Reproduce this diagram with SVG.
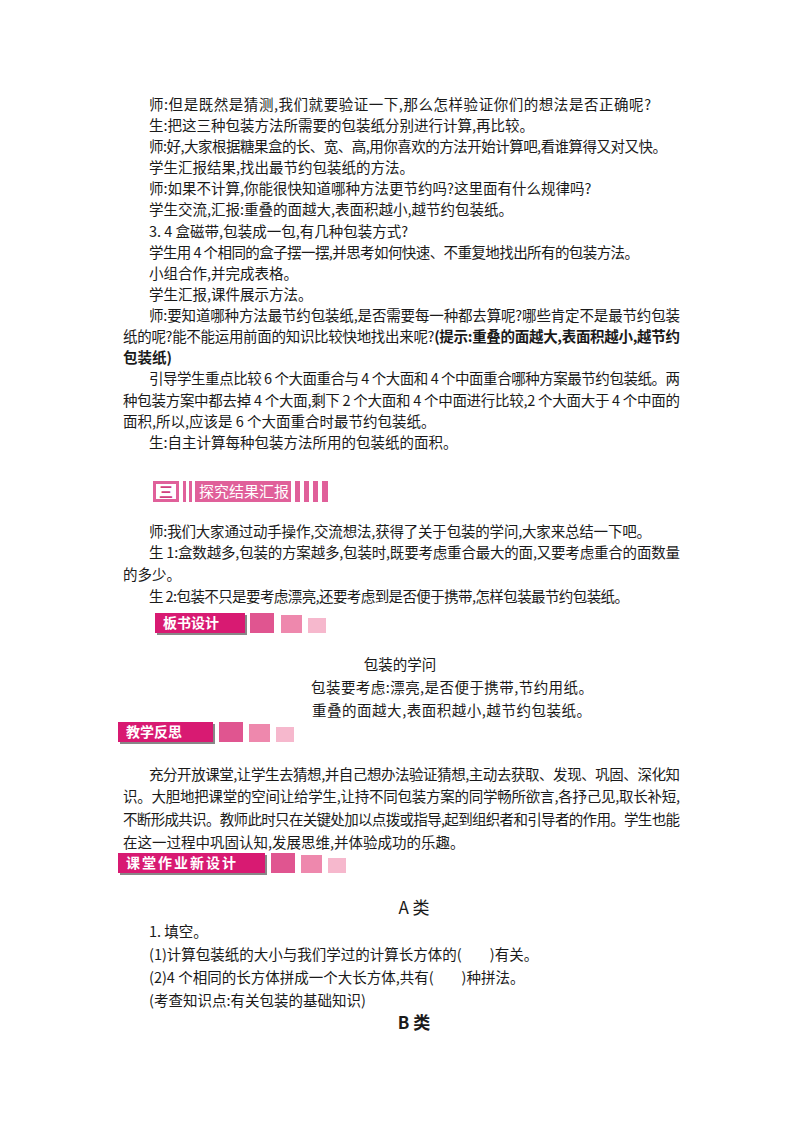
<svg xmlns="http://www.w3.org/2000/svg" width="800" height="1132" viewBox="0 0 800 1132">
<style>
text{font-family:"Noto Sans CJK SC","Liberation Sans",sans-serif;font-size:14.5px;fill:#1a1a1a}
.b{font-weight:bold}
.w{fill:#fff;font-size:14px;font-weight:bold}
.c{text-anchor:middle}
</style>
<rect width="800" height="1132" fill="#fff"/>
<g id="body">
<text x="149" y="110" textLength="502" lengthAdjust="spacing">师:但是既然是猜测,我们就要验证一下,那么怎样验证你们的想法是否正确呢?</text>
<text x="149" y="131">生:把这三种包装方法所需要的包装纸分别进行计算,再比较。</text>
<text x="149" y="152" textLength="518" lengthAdjust="spacing">师:好,大家根据糖果盒的长、宽、高,用你喜欢的方法开始计算吧,看谁算得又对又快。</text>
<text x="149" y="173">学生汇报结果,找出最节约包装纸的方法。</text>
<text x="149" y="194">师:如果不计算,你能很快知道哪种方法更节约吗?这里面有什么规律吗?</text>
<text x="149" y="215">学生交流,汇报:重叠的面越大,表面积越小,越节约包装纸。</text>
<text x="149" y="237">3. 4 盒磁带,包装成一包,有几种包装方式?</text>
<text x="149" y="258" textLength="490" lengthAdjust="spacing">学生用 4 个相同的盒子摆一摆,并思考如何快速、不重复地找出所有的包装方法。</text>
<text x="149" y="279">小组合作,并完成表格。</text>
<text x="149" y="300">学生汇报,课件展示方法。</text>
<text x="149" y="321" textLength="531" lengthAdjust="spacing">师:要知道哪种方法最节约包装纸,是否需要每一种都去算呢?哪些肯定不是最节约包装</text>
<text x="123" y="342" textLength="557" lengthAdjust="spacing">纸的呢?能不能运用前面的知识比较快地找出来呢?<tspan class="b">(提示:重叠的面越大,表面积越小,越节约</tspan></text>
<text x="123" y="363" class="b">包装纸)</text>
<text x="149" y="405" textLength="531" lengthAdjust="spacing" transform="translate(0,-21)">引导学生重点比较 6 个大面重合与 4 个大面和 4 个中面重合哪种方案最节约包装纸。两</text>
<text x="123" y="406" textLength="557" lengthAdjust="spacing">种包装方案中都去掉 4 个大面,剩下 2 个大面和 4 个中面进行比较,2 个大面大于 4 个中面的</text>
<text x="123" y="427">面积,所以,应该是 6 个大面重合时最节约包装纸。</text>
<text x="149" y="469" transform="translate(0,-21)">生:自主计算每种包装方法所用的包装纸的面积。</text>
<text x="149" y="537" textLength="502" lengthAdjust="spacing">师:我们大家通过动手操作,交流想法,获得了关于包装的学问,大家来总结一下吧。</text>
<text x="149" y="558" textLength="531" lengthAdjust="spacing">生 1:盒数越多,包装的方案越多,包装时,既要考虑重合最大的面,又要考虑重合的面数量</text>
<text x="123" y="580">的多少。</text>
<text x="149" y="602" textLength="480" lengthAdjust="spacing">生 2:包装不只是要考虑漂亮,还要考虑到是否便于携带,怎样包装最节约包装纸。</text>
<text x="400" y="670" class="c">包装的学问</text>
<text x="311" y="693" textLength="282" lengthAdjust="spacing">包装要考虑:漂亮,是否便于携带,节约用纸。</text>
<text x="312" y="716" textLength="279" lengthAdjust="spacing">重叠的面越大,表面积越小,越节约包装纸。</text>
<text x="149" y="780" textLength="531" lengthAdjust="spacing">充分开放课堂,让学生去猜想,并自己想办法验证猜想,主动去获取、发现、巩固、深化知</text>
<text x="123" y="802" textLength="557" lengthAdjust="spacing">识。大胆地把课堂的空间让给学生,让持不同包装方案的同学畅所欲言,各抒己见,取长补短,</text>
<text x="123" y="825" textLength="557" lengthAdjust="spacing">不断形成共识。教师此时只在关键处加以点拨或指导,起到组织者和引导者的作用。学生也能</text>
<text x="123" y="848">在这一过程中巩固认知,发展思维,并体验成功的乐趣。</text>
<text x="414" y="914" class="c" style="font-size:17px">A 类</text>
<text x="149" y="937">1. 填空。</text>
<text x="149" y="960">(1)计算包装纸的大小与我们学过的计算长方体的(<tspan dx="28">)有关。</tspan></text>
<text x="149" y="983">(2)4 个相同的长方体拼成一个大长方体,共有(<tspan dx="28">)种拼法。</tspan></text>
<text x="149" y="1006">(考查知识点:有关包装的基础知识)</text>
<text x="414" y="1029" class="c b" style="font-size:17px">B 类</text>
</g>
<g id="banner1">
<rect x="153" y="481" width="26" height="21" fill="#e0609a"/>
<rect x="156" y="484" width="20" height="15" fill="#fff"/>
<text x="166" y="497" class="c" style="font-size:14px;fill:#d0407f;font-weight:bold">三</text>
<rect x="183" y="481" width="3" height="21" fill="#e0609a"/>
<rect x="189" y="481" width="3" height="21" fill="#e0609a"/>
<rect x="195" y="481" width="96" height="21" fill="#e0609a"/>
<text x="199" y="497" class="w" style="font-weight:normal;font-size:15px">探究结果汇报</text>
<rect x="295" y="481" width="5" height="21" fill="#e0609a"/>
<rect x="304" y="481" width="5" height="21" fill="#e0609a"/>
<rect x="313" y="481" width="5" height="21" fill="#e0609a"/>
<rect x="322" y="481" width="6" height="21" fill="#e0609a"/>
</g>
<g id="banner2">
<rect x="157" y="615" width="90" height="20" fill="#888"/>
<rect x="155" y="613" width="90" height="20" fill="#d81a72"/>
<text x="163" y="628" class="w">板书设计</text>
<rect x="250" y="613" width="24" height="20" fill="#e05590"/>
<rect x="281" y="615" width="21" height="18" fill="#ee88ad"/>
<rect x="308" y="618" width="18" height="15" fill="#f6b8cd"/>
</g>
<g id="banner3">
<rect x="120" y="724" width="95" height="20" fill="#888"/>
<rect x="118" y="722" width="95" height="20" fill="#d81a72"/>
<text x="126" y="737" class="w">教学反思</text>
<rect x="219" y="722" width="24" height="20" fill="#e05590"/>
<rect x="249" y="724" width="21" height="18" fill="#ee88ad"/>
<rect x="276" y="727" width="18" height="15" fill="#f6b8cd"/>
</g>
<g id="banner4">
<rect x="120" y="855" width="147" height="20" fill="#888"/>
<rect x="118" y="853" width="147" height="20" fill="#d81a72"/>
<text x="126" y="868" class="w" letter-spacing="2">课堂作业新设计</text>
<rect x="271" y="853" width="24" height="20" fill="#e05590"/>
<rect x="301" y="855" width="21" height="18" fill="#ee88ad"/>
<rect x="328" y="858" width="18" height="15" fill="#f6b8cd"/>
</g>
<g id="connectors"/>
</svg>
